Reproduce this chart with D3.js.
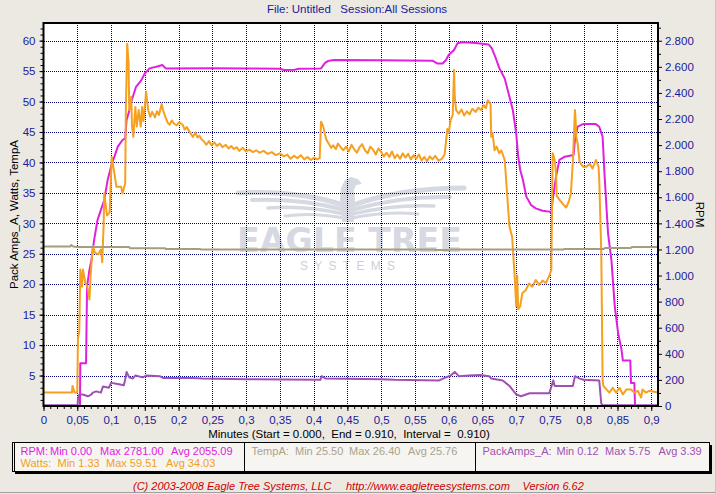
<!DOCTYPE html>
<html>
<head>
<meta charset="utf-8">
<script src="https://cdn.jsdelivr.net/npm/d3@7"></script>
<style>
  html, body { margin: 0; padding: 0; background: #ECE9E3; }
  svg { display: block; font-family: "Liberation Sans", Arial, sans-serif; }
</style>
</head>
<body>
<svg id="chart" width="716" height="494"></svg>
<script>
// ---------------- DATA ----------------
const titleText = "File: Untitled   Session:All Sessions";
const xTitle = "Minutes (Start = 0.000,  End = 0.910,  Interval =  0.910)";
const leftTitle = "Pack Amps_A, Watts, TempA";
const rightTitle = "RPM";
const footerParts = ["(C) 2003-2008 Eagle Tree Systems, LLC", "http://www.eagletreesystems.com", "Version 6.62"];

const xTicks = [0,0.05,0.1,0.15,0.2,0.25,0.3,0.35,0.4,0.45,0.5,0.55,0.6,0.65,0.7,0.75,0.8,0.85,0.9];
const leftTicks = [5,10,15,20,25,30,35,40,45,50,55,60];
const rightTicks = [0,200,400,600,800,1000,1200,1400,1600,1800,2000,2200,2400,2600,2800];

// [minutes, rpm]
const rpmData = [
  [0,0],[0.054,0],[0.0545,327],[0.063,327],[0.0645,915],[0.068,1043],[0.071,1120],[0.075,1273],
  [0.080,1426],[0.085,1503],[0.090,1579],[0.095,1733],[0.100,1835],[0.105,1911],[0.110,1988],
  [0.117,2039],[0.121,2052],[0.123,2192],[0.126,2243],[0.130,2332],[0.137,2447],[0.145,2498],
  [0.150,2550],[0.157,2588],[0.167,2601],[0.176,2614],[0.181,2588],[0.25,2590],[0.30,2588],
  [0.35,2585],[0.356,2576],[0.372,2578],[0.378,2586],[0.411,2588],[0.417,2630],[0.421,2644],
  [0.43,2652],[0.5,2650],[0.576,2647],[0.583,2626],[0.591,2626],[0.596,2652],[0.600,2690],
  [0.608,2729],[0.613,2780],[0.62,2788],[0.64,2782],[0.659,2772],[0.664,2741],[0.669,2677],
  [0.675,2590],[0.683,2510],[0.690,2371],[0.695,2269],[0.700,2090],[0.703,1911],[0.706,1809],
  [0.710,1733],[0.715,1605],[0.722,1541],[0.729,1515],[0.739,1497],[0.749,1490],[0.752,1482],
  [0.754,1579],[0.759,1758],[0.764,1886],[0.772,1911],[0.785,1924],[0.787,2039],[0.791,2141],
  [0.799,2161],[0.818,2161],[0.823,2141],[0.828,2064],[0.831,1758],[0.836,1324],[0.841,1120],
  [0.846,762],[0.851,557],[0.856,430],[0.858,348],[0.869,348],[0.870,176],[0.875,176],[0.876,0],[0.91,0]
];

// [minutes, watts]
const wattsData = [
  [0,2.2],[0.042,2.2],[0.043,3.3],[0.046,2.2],[0.050,2.2],[0.051,11.0],[0.053,12.3],[0.0545,22.4],
  [0.057,19.6],[0.0584,22.4],[0.062,20.2],[0.065,19.6],[0.068,17.5],[0.070,21.8],[0.073,26.3],
  [0.076,25.2],[0.081,24.9],[0.085,25.7],[0.087,23.6],[0.089,29.6],[0.090,34.9],[0.094,31.3],
  [0.098,31.8],[0.101,40.9],[0.105,38.2],[0.108,36.0],[0.115,36.0],[0.117,34.9],[0.121,36.6],
  [0.122,49.1],[0.124,59.5],[0.126,56.2],[0.127,48.6],[0.130,50.8],[0.131,46.0],[0.133,44.2],
  [0.136,49.1],[0.138,45.9],[0.141,48.6],[0.144,45.9],[0.146,49.1],[0.148,46.8],[0.152,51.6],
  [0.155,48.6],[0.158,47.5],[0.161,48.3],[0.165,47.4],[0.168,48.4],[0.171,47.8],[0.175,49.6],
  [0.177,48.6],[0.181,47.3],[0.184,46.5],[0.187,46.2],[0.190,46.9],[0.193,46.4],[0.197,46.1],
  [0.201,46.6],[0.206,46.2],[0.209,45.4],[0.212,45.8],[0.216,45.1],[0.219,44.6],[0.221,44.2],
  [0.225,44.9],[0.228,44.1],[0.231,44.4],[0.234,43.8],[0.238,43.4],[0.241,42.9],[0.245,43.5],
  [0.249,42.8],[0.253,43.3],[0.257,42.7],[0.261,43.1],[0.265,42.5],[0.27,42.9],[0.274,42.3],
  [0.278,42.7],[0.282,42.2],[0.286,42.5],[0.29,41.9],[0.295,42.4],[0.30,41.8],[0.305,42.1],
  [0.31,41.7],[0.315,42.0],[0.32,41.6],[0.326,41.9],[0.332,41.4],[0.338,41.7],[0.344,41.2],
  [0.35,41.5],[0.356,41.0],[0.361,41.3],[0.366,40.6],[0.371,41.1],[0.376,40.7],[0.381,41.2],
  [0.386,40.5],[0.391,40.9],[0.396,40.4],[0.401,40.8],[0.405,40.5],[0.409,40.7],[0.411,46.7],
  [0.414,46.0],[0.416,45.0],[0.419,43.7],[0.423,43.0],[0.426,42.4],[0.429,42.8],[0.433,42.2],
  [0.436,43.1],[0.44,42.5],[0.444,42.0],[0.448,42.6],[0.452,41.8],[0.456,42.9],[0.46,42.2],
  [0.464,41.6],[0.468,42.5],[0.472,43.0],[0.476,42.0],[0.48,41.5],[0.484,42.6],[0.488,42.1],
  [0.492,41.3],[0.496,42.3],[0.5,41.7],[0.504,41.0],[0.508,41.6],[0.512,40.9],[0.516,41.8],
  [0.52,40.7],[0.524,41.3],[0.528,40.6],[0.532,41.5],[0.536,40.8],[0.54,41.4],[0.544,40.5],
  [0.548,41.2],[0.552,40.6],[0.556,41.3],[0.56,40.3],[0.564,40.9],[0.568,40.2],[0.572,41.0],
  [0.576,40.5],[0.58,41.1],[0.585,40.3],[0.59,40.6],[0.594,41.3],[0.598,45.5],[0.600,44.8],
  [0.603,47.0],[0.606,47.8],[0.608,55.2],[0.609,50.8],[0.611,48.6],[0.615,48.0],[0.619,48.7],
  [0.623,47.7],[0.627,48.4],[0.631,47.9],[0.635,48.8],[0.64,48.3],[0.644,49.0],[0.648,48.6],
  [0.652,49.4],[0.655,48.9],[0.658,50.2],[0.662,49.6],[0.663,44.2],[0.665,44.8],[0.668,42.0],
  [0.671,42.6],[0.675,41.5],[0.678,42.0],[0.683,40.4],[0.690,29.5],[0.694,27.8],[0.698,20.8],
  [0.700,16.4],[0.7015,21.4],[0.703,15.9],[0.706,16.4],[0.709,18.5],[0.714,19.0],[0.719,20.1],
  [0.724,19.6],[0.729,20.7],[0.734,19.9],[0.739,20.6],[0.744,20.2],[0.749,21.4],[0.752,22.4],
  [0.754,41.5],[0.757,40.4],[0.759,38.2],[0.760,34.5],[0.764,33.9],[0.769,33.2],[0.774,32.6],
  [0.778,33.6],[0.781,34.9],[0.784,40.4],[0.787,48.6],[0.788,47.0],[0.789,44.2],[0.791,43.1],
  [0.794,40.1],[0.799,39.3],[0.804,39.3],[0.809,39.8],[0.813,39.0],[0.818,40.4],[0.822,39.3],
  [0.823,37.1],[0.826,25.2],[0.828,4.2],[0.829,3.3],[0.833,2.8],[0.838,2.2],[0.843,3.0],
  [0.848,2.2],[0.853,3.0],[0.858,1.9],[0.863,2.7],[0.870,2.7],[0.875,2.2],[0.880,2.5],
  [0.885,1.4],[0.887,2.7],[0.892,2.2],[0.897,2.5],[0.91,2.2]
];

// [minutes, tempA]
const tempData = [
  [0,26.2],[0.040,26.2],[0.041,26.45],[0.044,26.2],[0.05,26.1],[0.127,26.1],[0.128,25.9],
  [0.18,25.9],[0.181,25.8],[0.232,25.8],[0.233,25.7],[0.58,25.7],[0.581,25.6],[0.6,25.6],
  [0.601,25.7],[0.77,25.7],[0.771,25.8],[0.83,25.8],[0.831,25.95],[0.87,25.95],[0.871,26.1],[0.91,26.1]
];

// [minutes, packAmps]
const ampsData = [
  [0,0.12],[0.0505,0.12],[0.051,1.1],[0.053,1.9],[0.058,1.9],[0.066,1.6],[0.071,1.9],[0.073,2.2],
  [0.078,2.4],[0.085,2.2],[0.088,3.2],[0.097,3.0],[0.100,3.8],[0.110,3.6],[0.119,3.4],[0.121,4.4],
  [0.123,5.6],[0.127,4.7],[0.132,4.5],[0.136,5.0],[0.147,4.7],[0.152,5.0],[0.172,4.9],[0.177,4.6],
  [0.22,4.6],[0.235,4.5],[0.30,4.4],[0.41,4.3],[0.412,4.9],[0.418,4.5],[0.5,4.4],[0.52,4.3],
  [0.586,4.2],[0.596,4.7],[0.603,5.0],[0.609,5.6],[0.615,4.9],[0.63,5.0],[0.646,5.1],[0.660,4.9],
  [0.663,4.5],[0.680,4.2],[0.690,3.3],[0.700,1.9],[0.707,1.6],[0.720,2.1],[0.749,2.1],[0.755,4.2],
  [0.757,3.3],[0.784,3.3],[0.787,4.9],[0.794,4.5],[0.80,4.3],[0.823,4.2],[0.826,0.4],[0.828,0.12],[0.91,0.12]
];

const legendRows = [
  {name:"RPM:",   stats:["Min 0.00","Max 2781.00","Avg 2055.09"], color:"#E020E0"},
  {name:"Watts:", stats:["Min 1.33","Max 59.51","Avg 34.03"],     color:"#F0A020"},
  {name:"TempA:", stats:["Min 25.50","Max 26.40","Avg 25.76"],    color:"#A8A38A"},
  {name:"PackAmps_A:", stats:["Min 0.12","Max 5.75","Avg 3.39"],  color:"#A050B0"}
];

// ---------------- LAYOUT ----------------
const svg = d3.select("#chart");
const W = 716, H = 494;
const plot = {l: 43.5, r: 658, t: 23, b: 406};

const x = d3.scaleLinear().domain([0, 0.91]).range([plot.l, plot.r]);
const yL = d3.scaleLinear().domain([0, 62.9]).range([plot.b, plot.t]);
const yR = d3.scaleLinear().domain([0, 2936]).range([plot.b, plot.t]);

svg.append("rect").attr("width", W).attr("height", H).attr("fill", "#ECE9E3");
svg.append("line").attr("x1",0).attr("x2",W).attr("y1",492.5).attr("y2",492.5).attr("stroke","#A0A0A0");
svg.append("line").attr("x1",715.5).attr("x2",715.5).attr("y1",0).attr("y2",H).attr("stroke","#C8C6C0");

// plot background
svg.append("rect").attr("x", plot.l).attr("y", plot.t)
  .attr("width", plot.r - plot.l).attr("height", plot.b - plot.t).attr("fill", "#fff");

// watermark
const wm = svg.append("g").attr("fill", "#D6D9E1");
const cx = 348;
const wingG = svg.append("g").attr("fill","none").attr("stroke","#D6D9E1").attr("stroke-linecap","round");
const feathers = [
  [[cx-2,206],[300,190],[238,193], 5],
  [[cx-3,210],[300,198],[252,200], 4],
  [[cx-4,214],[305,205],[268,208], 3.5],
  [[cx-4,218],[312,212],[285,216], 3],
  [[cx+2,206],[400,188],[464,188], 5],
  [[cx+3,210],[400,196],[450,197], 4],
  [[cx+4,214],[395,204],[434,206], 3.5],
  [[cx+4,218],[388,211],[418,214], 3]
];
feathers.forEach(f => {
  wingG.append("path")
    .attr("d", `M${f[0][0]},${f[0][1]} Q${f[1][0]},${f[1][1]} ${f[2][0]},${f[2][1]}`)
    .attr("stroke-width", f[3]);
});
wm.append("path").attr("d",
  `M${cx-6},222 L${cx-8},200 L${cx-7},188 L${cx-3},180 L${cx+3},177 L${cx+10},179 L${cx+14},184 L${cx+8},185 L${cx+6},190 L${cx+7},200 L${cx+6},222 Z`);
wm.append("text").attr("x", 237).attr("y", 252)
  .attr("textLength", 225).attr("lengthAdjust", "spacingAndGlyphs")
  .style("font-family", "'DejaVu Sans', sans-serif").style("font-weight", "bold").style("font-size", "33px")
  .text("EAGLE TREE");
wm.append("text").attr("x", 300).attr("y", 270)
  .attr("textLength", 95).attr("lengthAdjust", "spacing")
  .attr("fill", "#CDD0D8")
  .style("font-size", "12px")
  .text("SYSTEMS");

// gridlines
const grid = svg.append("g").attr("stroke", "#000080").attr("stroke-dasharray", "1,1")
  .attr("shape-rendering", "crispEdges");
grid.selectAll("line.v").data(xTicks.filter(d => d > 0)).join("line")
  .attr("x1", d => Math.round(x(d)) + 0.5).attr("x2", d => Math.round(x(d)) + 0.5)
  .attr("y1", plot.t).attr("y2", plot.b);
grid.selectAll("line.h").data(leftTicks).join("line")
  .attr("y1", d => Math.round(yL(d)) + 0.5).attr("y2", d => Math.round(yL(d)) + 0.5)
  .attr("x1", plot.l).attr("x2", plot.r);

// series
const lineL = d3.line().x(d => x(d[0])).y(d => yL(d[1]));
const lineR = d3.line().x(d => x(d[0])).y(d => yR(d[1]));
svg.append("clipPath").attr("id","pc").append("rect")
  .attr("x", plot.l).attr("y", plot.t).attr("width", plot.r-plot.l).attr("height", plot.b-plot.t);
const sg = svg.append("g").attr("clip-path","url(#pc)").attr("fill","none")
  .attr("stroke-width", 2).attr("stroke-linejoin","round");
sg.append("path").attr("d", lineR(rpmData)).attr("stroke", "#E020E0");
sg.append("path").attr("d", lineL(wattsData)).attr("stroke", "#F5A020");
sg.append("path").attr("d", lineL(tempData)).attr("stroke", "#A39E80");
sg.append("path").attr("d", lineL(ampsData)).attr("stroke", "#A050B0");

// frame
svg.append("rect").attr("x", plot.l).attr("y", plot.t)
  .attr("width", plot.r - plot.l).attr("height", plot.b - plot.t)
  .attr("fill", "none").attr("stroke", "#000").attr("stroke-width", 2);

// axes
const tickColor = "#1A1A9C";
const commaFmt = d => String(d).replace(".", ",");
const loc = d3.formatLocale({decimal: ",", thousands: ".", grouping: [3], currency: ["", ""]});
const rpmFmt = loc.format(",d");

function styleAxis(g) {
  g.select(".domain").remove();
  g.selectAll(".tick line").attr("stroke", "#000");
  g.selectAll(".tick text").attr("fill", tickColor).style("font-size", "11.5px")
    .style("font-family", "'Liberation Sans', Arial, sans-serif");
}

svg.append("g").attr("transform", `translate(0,${plot.b})`)
  .call(d3.axisBottom(x).tickValues(d3.range(0, 91, 1).map(i => i / 100)).tickSize(3).tickFormat(""))
  .call(styleAxis);
svg.append("g").attr("transform", `translate(0,${plot.b})`)
  .call(d3.axisBottom(x).tickValues(xTicks).tickSize(5).tickPadding(5).tickFormat(commaFmt))
  .call(styleAxis);

svg.append("g").attr("transform", `translate(${plot.l},0)`)
  .call(d3.axisLeft(yL).tickValues(d3.range(1, 63, 1)).tickSize(3).tickFormat(""))
  .call(styleAxis);
svg.append("g").attr("transform", `translate(${plot.l},0)`)
  .call(d3.axisLeft(yL).tickValues(leftTicks).tickSize(4).tickPadding(4))
  .call(styleAxis);

svg.append("g").attr("transform", `translate(${plot.r},0)`)
  .call(d3.axisRight(yR).tickValues(d3.range(100, 2901, 200)).tickSize(3).tickFormat(""))
  .call(styleAxis);
svg.append("g").attr("transform", `translate(${plot.r},0)`)
  .call(d3.axisRight(yR).tickValues(rightTicks).tickSize(4).tickPadding(3).tickFormat(rpmFmt))
  .call(styleAxis);

// titles
svg.append("text").attr("x", 357).attr("y", 13).attr("text-anchor", "middle")
  .attr("fill", tickColor).style("font-size", "11.5px").style("white-space", "pre").text(titleText);
svg.append("text").attr("x", 349).attr("y", 438).attr("text-anchor", "middle")
  .attr("fill", "#000").style("font-size", "11.5px").style("white-space", "pre").text(xTitle);
svg.append("text").attr("transform", `translate(18,${(plot.t + plot.b) / 2}) rotate(-90)`)
  .attr("text-anchor", "middle").attr("fill", "#000").style("font-size", "11.5px").text(leftTitle);
svg.append("text").attr("transform", `translate(696,${(plot.t + plot.b) / 2}) rotate(90)`)
  .attr("text-anchor", "middle").attr("fill", "#000").style("font-size", "11.5px").text(rightTitle);

// legend box
const lg = {x: 12, y: 442, w: 697, h: 29};
svg.append("rect").attr("x", lg.x + 3).attr("y", lg.y + 3).attr("width", lg.w).attr("height", lg.h).attr("fill", "#000");
svg.append("rect").attr("x", lg.x + 0.5).attr("y", lg.y + 0.5).attr("width", lg.w).attr("height", lg.h)
  .attr("fill", "#F6F5F2").attr("stroke", "#000");
svg.append("line").attr("x1", lg.x + 2.5).attr("x2", lg.x + 2.5).attr("y1", lg.y + 1).attr("y2", lg.y + lg.h).attr("stroke", "#000");
[244.5, 475.5].forEach(xx => svg.append("line").attr("x1", xx).attr("x2", xx)
  .attr("y1", lg.y + 1).attr("y2", lg.y + lg.h).attr("stroke", "#000"));

const legendPos = [
  {x: [20.5, 50, 100, 171], y: 455},
  {x: [20.5, 57.5, 106, 166], y: 467},
  {x: [251.5, 295, 349, 408], y: 455},
  {x: [482.5, 556.5, 605, 658.5], y: 455}
];
legendRows.forEach((row, i) => {
  const p = legendPos[i];
  const texts = [row.name].concat(row.stats);
  texts.forEach((t, j) => {
    svg.append("text").attr("x", p.x[j]).attr("y", p.y).attr("fill", row.color)
      .style("font-size", "11px").text(t);
  });
});

// footer
const footerX = [133, 346, 522.5];
footerParts.forEach((t, i) => {
  svg.append("text").attr("x", footerX[i]).attr("y", 490).attr("fill", "#CC0000")
    .style("font-size", "11px").style("font-style", "italic").text(t);
});
</script>
</body>
</html>
